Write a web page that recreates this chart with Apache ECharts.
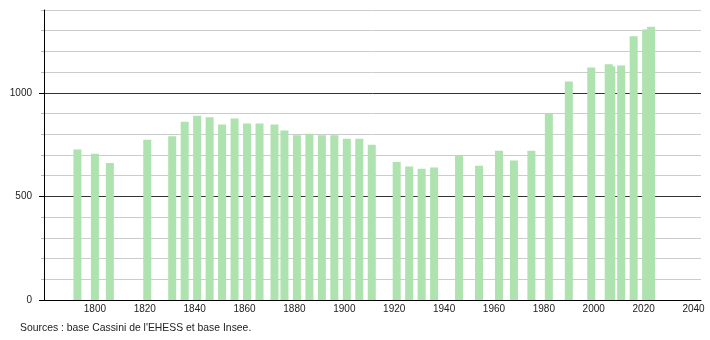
<!DOCTYPE html>
<html>
<head>
<meta charset="utf-8">
<script src="https://cdn.jsdelivr.net/npm/echarts@6/dist/echarts.min.js"></script>
<style>
html,body{margin:0;padding:0;background:#fff;}
#c{width:710px;height:340px;}
</style>
</head>
<body>
<div id="c"></div>
<script>
const years = [1793,1800,1806,1821,1831,1836,1841,1846,1851,1856,1861,1866,1872,1876,1881,1886,1891,1896,1901,1906,1911,1921,1926,1931,1936,1946,1954,1962,1968,1975,1982,1990,1999,2006,2007,2011,2016,2021,2023];
const population = [726,706,661,774,790,861,890,882,847,876,852,852,847,818,795,802,795,795,779,779,750,666,644,634,640,698,648,721,673,721,898,1055,1123,1138,1128,1132,1273,1306,1319];
const xTickLabels = [1800,1820,1840,1860,1880,1900,1920,1940,1960,1980,2000,2020,2040];
const yTickLabels = [0,500,1000];
const sourceText = "Sources : base Cassini de l'EHESS et base Insee.";

const chart = echarts.init(document.getElementById('c'), null, {renderer:'canvas'});
const font = 'Liberation Sans, Arial, sans-serif';
const plain = v => String(Math.round(v));
chart.setOption({
  animation:false,
  backgroundColor:'#fff',
  grid:{left:44,right:9,top:10,bottom:40,containLabel:false},
  xAxis:{
    type:'value', min:1779.6, max:2043,
    axisLine:{show:true,onZero:false,lineStyle:{color:'#000',width:1}},
    axisTick:{show:false},
    splitLine:{show:false},
    axisLabel:{customValues:xTickLabels,formatter:plain,margin:4,color:'#222',fontSize:10,fontFamily:font}
  },
  yAxis:[
    {
      type:'value', min:0, max:1400, interval:100,
      axisLine:{show:true,lineStyle:{color:'#000',width:1}},
      axisTick:{show:true,length:3,lineStyle:{color:'#bbb'}},
      axisLabel:{show:false},
      splitLine:{show:true,lineStyle:{color:['#333','#ccc','#ccc','#ccc','#ccc'],width:1}}
    },
    {
      type:'value', min:0, max:1400, position:'left',
      axisLine:{show:false},
      axisTick:{show:true,length:5,customValues:yTickLabels,lineStyle:{color:'#000'}},
      axisLabel:{customValues:yTickLabels,formatter:plain,margin:12,color:'#222',fontSize:10,fontFamily:font},
      splitLine:{show:false}
    }
  ],
  series:[{
    type:'bar',
    yAxisIndex:0,
    barWidth:8,
    itemStyle:{color:'#aee2ae'},
    data:years.map((y,i)=>[y,population[i]])
  }],
  graphic:[{
    type:'text', left:20, top:323,
    style:{text:sourceText,fill:'#222',font:'10.4px '+font}
  }]
});
</script>
</body>
</html>
